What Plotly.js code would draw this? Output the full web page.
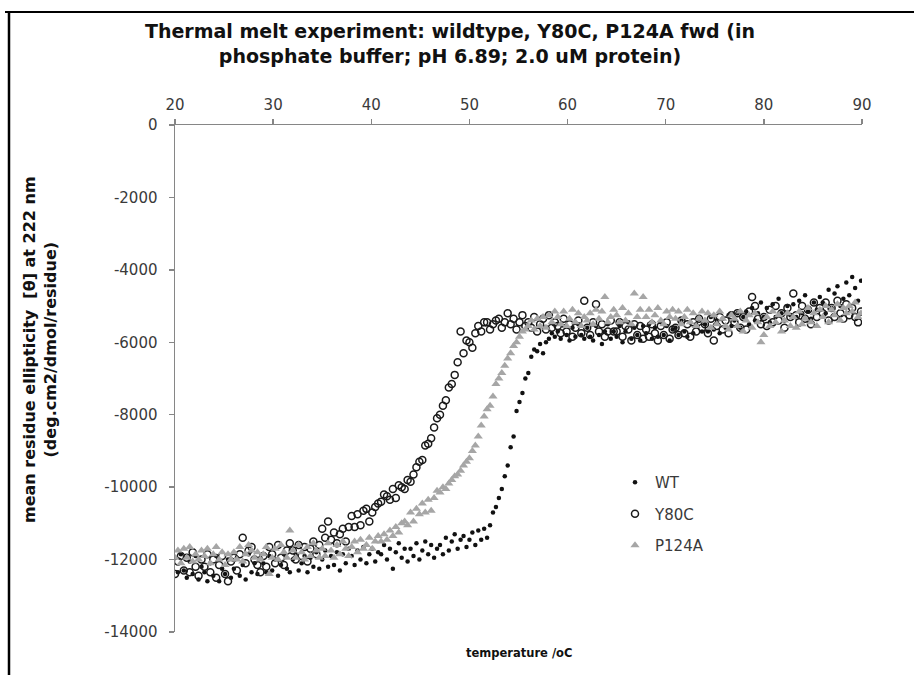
<!DOCTYPE html>
<html>
<head>
<meta charset="utf-8">
<script src="https://cdn.plot.ly/plotly-3.0.1.min.js"></script>
<style>html,body{margin:0;padding:0;background:#fff;}#chart{width:914px;height:675px;}</style>
</head>
<body>
<div id="chart"></div>
<script>
// Temperature (°C)
const temperature = [
20,20.3,20.6,20.9,21.2,21.5,21.8,22.1,22.4,22.7,
23,23.3,23.6,23.9,24.2,24.5,24.8,25.1,25.4,25.7,
26,26.3,26.6,26.9,27.2,27.5,27.8,28.1,28.4,28.7,
29,29.3,29.6,29.9,30.2,30.5,30.8,31.1,31.4,31.7,
32,32.3,32.6,32.9,33.2,33.5,33.8,34.1,34.4,34.7,
35,35.3,35.6,35.9,36.2,36.5,36.8,37.1,37.4,37.7,
38,38.3,38.6,38.9,39.2,39.5,39.8,40.1,40.4,40.7,
41,41.3,41.6,41.9,42.2,42.5,42.8,43.1,43.4,43.7,
44,44.3,44.6,44.9,45.2,45.5,45.8,46.1,46.4,46.7,
47,47.3,47.6,47.9,48.2,48.5,48.8,49.1,49.4,49.7,
50,50.3,50.6,50.9,51.2,51.5,51.8,52.1,52.4,52.7,
53,53.3,53.6,53.9,54.2,54.5,54.8,55.1,55.4,55.7,
56,56.3,56.6,56.9,57.2,57.5,57.8,58.1,58.4,58.7,
59,59.3,59.6,59.9,60.2,60.5,60.8,61.1,61.4,61.7,
62,62.3,62.6,62.9,63.2,63.5,63.8,64.1,64.4,64.7,
65,65.3,65.6,65.9,66.2,66.5,66.8,67.1,67.4,67.7,
68,68.3,68.6,68.9,69.2,69.5,69.8,70.1,70.4,70.7,
71,71.3,71.6,71.9,72.2,72.5,72.8,73.1,73.4,73.7,
74,74.3,74.6,74.9,75.2,75.5,75.8,76.1,76.4,76.7,
77,77.3,77.6,77.9,78.2,78.5,78.8,79.1,79.4,79.7,
80,80.3,80.6,80.9,81.2,81.5,81.8,82.1,82.4,82.7,
83,83.3,83.6,83.9,84.2,84.5,84.8,85.1,85.4,85.7,
86,86.3,86.6,86.9,87.2,87.5,87.8,88.1,88.4,88.7,
89,89.3,89.6,89.9
];

// Mean residue ellipticity at 222 nm
const wt = [
-11950,-12350,-11850,-12300,-12500,-12050,-12400,-11900,-12550,-12200,
-12350,-12600,-12100,-12450,-11900,-12600,-12250,-12400,-12000,-12500,
-12250,-11950,-12450,-12150,-12550,-11850,-12350,-12100,-12400,-11950,
-12100,-12350,-11900,-12300,-12000,-12450,-12150,-11850,-12250,-12350,
-12000,-11850,-12300,-12100,-11900,-12350,-11950,-12200,-11800,-12250,
-12000,-11750,-12200,-11900,-12150,-11800,-12300,-11850,-12100,-11700,
-11900,-12150,-11750,-12000,-11650,-12100,-11850,-11700,-12050,-11800,
-11850,-11600,-12000,-11700,-12250,-11800,-11550,-11950,-11700,-12050,
-11700,-11900,-11550,-12000,-11750,-11500,-11850,-11600,-11950,-11700,
-11600,-11850,-11400,-11750,-11500,-11300,-11700,-11450,-11350,-11650,
-11450,-11250,-11600,-11200,-11450,-11150,-11400,-11050,-10700,-10550,
-10300,-10050,-9700,-9400,-8900,-8600,-7900,-7650,-7400,-7000,
-6850,-6400,-6200,-6250,-6050,-6300,-6000,-5900,-5750,-5850,
-5700,-5900,-5550,-5800,-5950,-5600,-5850,-5500,-5800,-5900,
-5600,-5850,-5950,-5550,-5800,-6050,-5700,-5500,-5900,-5700,
-5850,-5550,-6000,-5700,-5450,-5900,-5600,-5800,-5950,-5550,
-5750,-5500,-5900,-5600,-5850,-5450,-5800,-5550,-5950,-5650,
-5600,-5800,-5400,-5700,-5850,-5450,-5750,-5500,-5350,-5700,
-5500,-5700,-5300,-5650,-5400,-5750,-5350,-5600,-5250,-5550,
-5400,-5200,-5600,-5300,-5150,-5500,-5050,-5400,-5200,-4900,
-5300,-5050,-5450,-4950,-5300,-4800,-5200,-5400,-5000,-5250,
-4950,-5300,-4850,-5200,-4700,-5150,-5350,-4900,-5100,-4750,
-4900,-5200,-4550,-5050,-4650,-4450,-5000,-4800,-4350,-4700,
-4200,-4500,-4850,-4300
];

const y80c = [
-12400,-12050,-11900,-12300,-11950,-12350,-11800,-12200,-12450,-12000,
-12200,-11850,-12350,-12000,-12500,-12150,-11900,-12400,-12600,-12050,
-11950,-12300,-11850,-11400,-12100,-11750,-11650,-12000,-12150,-12350,
-11900,-12200,-11650,-11850,-12100,-11600,-11950,-12150,-11750,-11550,
-11750,-12000,-11600,-11900,-11650,-12050,-11700,-11500,-11850,-11600,
-11150,-11400,-10950,-11450,-11250,-11550,-11300,-11150,-11500,-11100,
-10800,-11100,-10750,-11050,-10650,-10600,-10950,-10700,-10550,-10450,
-10400,-10200,-10250,-10350,-10050,-10300,-9950,-10000,-10050,-9800,
-9850,-9650,-9450,-9300,-9250,-8850,-8800,-8650,-8350,-8100,
-8000,-7750,-7600,-7250,-7150,-6900,-6550,-5700,-6300,-5950,
-6000,-6150,-5750,-5550,-5700,-5450,-5450,-5650,-5500,-5400,
-5350,-5600,-5450,-5200,-5500,-5350,-5650,-5450,-5250,-5550,
-5450,-5600,-5300,-5700,-5500,-5350,-5650,-5250,-5600,-5450,
-5550,-5750,-5350,-5700,-5500,-5850,-5600,-5400,-5750,-4850,
-5600,-5800,-5450,-4950,-5700,-5500,-5850,-5700,-5400,-5700,
-5700,-5450,-5850,-5550,-5650,-5950,-5500,-5800,-5550,-5900,
-5650,-5850,-5500,-5750,-5950,-5550,-5800,-5450,-5900,-5650,
-5600,-5800,-5400,-5750,-5500,-5850,-5450,-5700,-5350,-5600,
-5500,-5750,-5350,-5950,-5550,-5300,-5650,-5400,-5750,-5250,
-5450,-5200,-5600,-5300,-5650,-5150,-4750,-5000,-5350,-5500,
-5300,-5550,-5100,-5450,-5000,-5400,-5200,-5600,-5050,-5300,
-4650,-5250,-5450,-5000,-5350,-5100,-5500,-4900,-5300,-5050,
-5200,-4900,-5400,-5050,-5300,-4850,-5200,-5350,-4950,-5250,
-5050,-5300,-5450,-5150
];

const p124a = [
-11950,-11750,-12100,-11700,-11950,-11650,-12050,-11850,-12000,-11750,
-11900,-11700,-12100,-11850,-11650,-12000,-11800,-12150,-11850,-12000,
-11800,-12000,-11650,-12050,-11850,-11600,-11750,-11950,-11800,-12000,
-11850,-11650,-12400,-11950,-11700,-12000,-11600,-11800,-11950,-11200,
-11750,-11950,-11600,-11800,-12000,-11650,-11900,-11550,-11750,-11950,
-11700,-11900,-11550,-11750,-11950,-11600,-11850,-11500,-11700,-11900,
-11650,-11500,-11800,-11450,-11700,-11600,-11400,-11700,-11500,-11350,
-11500,-11300,-11450,-11200,-11350,-11100,-11250,-11000,-10950,-11050,
-10700,-10950,-10600,-10750,-10450,-10700,-10350,-10650,-10300,-10100,
-10150,-10000,-10050,-9900,-9800,-9700,-9650,-9550,-9400,-9300,
-9200,-9000,-8850,-8600,-8300,-8050,-7850,-7750,-7500,-7150,
-7000,-6850,-6650,-6450,-6300,-6100,-6000,-5850,-5700,-5650,
-5550,-5400,-5650,-5350,-5550,-5300,-5600,-5250,-5450,-5150,
-5300,-5500,-5150,-5550,-5350,-5100,-5450,-5200,-5550,-5300,
-5400,-5200,-5500,-5100,-5350,-5150,-4750,-5450,-5300,-5100,
-5250,-5450,-5050,-5400,-5200,-5500,-4650,-5300,-5100,-4750,
-5300,-5100,-5450,-5250,-5050,-5400,-5500,-5150,-5300,-5100,
-5350,-5150,-5500,-5300,-5100,-5450,-5200,-5550,-5350,-5150,
-5400,-5200,-5600,-5250,-5500,-5150,-5350,-5550,-5650,-5250,
-5350,-5550,-5150,-5700,-5400,-5250,-5600,-5200,-5450,-6000,
-5800,-5300,-5550,-5150,-5450,-5250,-5700,-5400,-5200,-5550,
-5300,-5600,-5150,-5500,-5350,-5050,-5450,-5200,-5550,-5100,
-5300,-5000,-5450,-5100,-5250,-4950,-5400,-5050,-5200,-5000,
-5150,-4900,-5300,-5200
];

const seriesNames = ['WT', 'Y80C', 'P124A'];
const xTicks = [20, 30, 40, 50, 60, 70, 80, 90];
const yTicks = [0, -2000, -4000, -6000, -8000, -10000, -12000, -14000];

const traces = [
  {x: temperature, y: wt, name: seriesNames[0], type: 'scatter', mode: 'markers', legendgroup: 'a',
   marker: {symbol: 'circle', size: 4.5, color: '#111111'}},
  {x: temperature, y: y80c, name: seriesNames[1], type: 'scatter', mode: 'markers', legendgroup: 'b',
   marker: {symbol: 'circle-open', size: 7, color: '#1a1a1a', line: {width: 1.5, color: '#1a1a1a'}}},
  {x: temperature, y: p124a, name: seriesNames[2], type: 'scatter', mode: 'markers', legendgroup: 'c',
   marker: {symbol: 'triangle-up', size: 8, color: '#a6a6a6'}}
];

const axisColor = '#868686';
const fam = 'DejaVu Sans, Verdana, sans-serif';
const tickFont = {family: fam, size: 15, color: '#3a3a3a'};

// pixel helpers for paper coordinates (plot area: x 175..862, y 125..632)
const L = 175, R = 862, T = 125, B = 632;
const px = p => (p - L) / (R - L);
const py = q => (B - q) / (B - T);

const layout = {
  width: 914, height: 675,
  paper_bgcolor: '#ffffff', plot_bgcolor: '#ffffff',
  margin: {l: L, r: 914 - R, t: T, b: 675 - B},
  showlegend: true,
  title: {
    text: 'Thermal melt experiment: wildtype, Y80C, P124A fwd (in<br>phosphate buffer; pH 6.89; 2.0 uM protein)',
    font: {family: fam, size: 19, color: '#111111', weight: 'bold'},
    x: 450 / 914, xref: 'container', xanchor: 'center',
    y: 1 - 38 / 675, yref: 'container', yanchor: 'top'
  },
  xaxis: {
    range: [20, 90], side: 'top', tickvals: xTicks, ticktext: xTicks.map(String),
    showline: true, linecolor: axisColor, linewidth: 1.5,
    ticks: 'outside', ticklen: 5, tickcolor: axisColor, tickwidth: 1.5,
    showgrid: false, zeroline: false, tickfont: tickFont, ticklabelstandoff: 3
  },
  yaxis: {
    range: [-14000, 0], tickvals: yTicks, ticktext: yTicks.map(String),
    showline: true, linecolor: axisColor, linewidth: 1.5,
    ticks: 'outside', ticklen: 5, tickcolor: axisColor, tickwidth: 1.5,
    showgrid: false, zeroline: false, tickfont: tickFont, ticklabelstandoff: 8
  },
  xaxis2: {
    range: [20, 90], overlaying: 'x', side: 'top', anchor: 'y', tickvals: xTicks,
    showticklabels: false, ticks: 'inside', ticklen: 5, tickcolor: axisColor, tickwidth: 1.5,
    showline: false, showgrid: false, zeroline: false
  },
  yaxis2: {
    range: [-14000, 0], overlaying: 'y', side: 'left', anchor: 'x', tickvals: yTicks,
    showticklabels: false, ticks: 'inside', ticklen: 5, tickcolor: axisColor, tickwidth: 1.5,
    showline: false, showgrid: false, zeroline: false
  },
  legend: {
    x: px(615), y: py(466), xanchor: 'left', yanchor: 'top',
    bgcolor: 'rgba(0,0,0,0)', borderwidth: 0,
    traceorder: 'grouped', tracegroupgap: 9,
    font: {family: fam, size: 15, color: '#3a3a3a'}
  },
  annotations: [
    {text: 'mean residue ellipticity  [θ] at 222 nm<br>(deg.cm2/dmol/residue)',
     xref: 'paper', yref: 'paper', x: px(40), y: py(350), xanchor: 'center', yanchor: 'middle',
     textangle: -90, showarrow: false,
     font: {family: fam, size: 16, color: '#111111', weight: 'bold'}},
    {text: 'temperature /oC',
     xref: 'paper', yref: 'paper', x: 0.5, y: py(653), xanchor: 'center', yanchor: 'middle',
     showarrow: false,
     font: {family: fam, size: 11.5, color: '#111111', weight: 'bold'}}
  ],
  shapes: [
    {type: 'line', xref: 'paper', yref: 'paper', x0: px(5), x1: px(920), y0: py(12), y1: py(12),
     line: {color: '#000000', width: 2}},
    {type: 'line', xref: 'paper', yref: 'paper', x0: px(9), x1: px(9), y0: py(12), y1: py(680),
     line: {color: '#000000', width: 2.5}}
  ]
};

Plotly.newPlot('chart', traces, layout, {displayModeBar: false, staticPlot: true});
</script>
</body>
</html>
